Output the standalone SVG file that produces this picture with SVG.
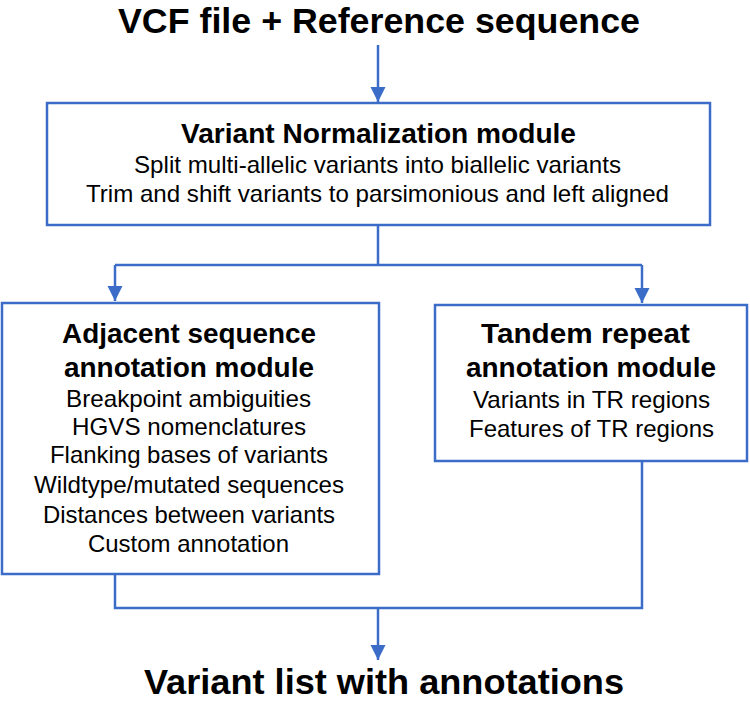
<svg xmlns="http://www.w3.org/2000/svg" width="750" height="702" viewBox="0 0 750 702">
<style>
.box{fill:#fff;stroke:#3b6cc8;stroke-width:2.5}
.ln{fill:none;stroke:#3b6cc8;stroke-width:2.5}
.big{font-family:"Liberation Sans",Arial,sans-serif;font-weight:bold;font-size:35px;fill:#000;text-anchor:middle}
.hd{font-family:"Liberation Sans",Arial,sans-serif;font-weight:bold;font-size:28px;fill:#000;text-anchor:middle}
.tx{font-family:"Liberation Sans",Arial,sans-serif;font-size:24px;fill:#000;text-anchor:middle}
</style>
<defs>
<marker id="ah" markerUnits="userSpaceOnUse" markerWidth="16" markerHeight="16" refX="15" refY="7.5" orient="auto">
<path d="M0,0 L15,7.5 L0,15 z" fill="#3b6cc8"/>
</marker>
</defs>
<g id="input">
<text class="big" x="379" y="33" textLength="522" lengthAdjust="spacingAndGlyphs">VCF file + Reference sequence</text>
</g>
<g id="connectors">
<path class="ln" d="M378,45 V102" marker-end="url(#ah)"/>
<path class="ln" d="M378,225 V265 M115,265 H642"/>
<path class="ln" d="M115,265 V301" marker-end="url(#ah)"/>
<path class="ln" d="M642,265 V303" marker-end="url(#ah)"/>
<path class="ln" d="M115,574 V608 H642 V461"/>
<path class="ln" d="M378,608 V660" marker-end="url(#ah)"/>
</g>
<g id="normalization">
<rect class="box" x="47" y="103" width="663" height="122"/>
<text class="hd" x="378.5" y="143" textLength="395" lengthAdjust="spacingAndGlyphs">Variant Normalization module</text>
<text class="tx" x="377.5" y="173" textLength="487" lengthAdjust="spacingAndGlyphs">Split multi-allelic variants into biallelic variants</text>
<text class="tx" x="377.5" y="202" textLength="583" lengthAdjust="spacingAndGlyphs">Trim and shift variants to parsimonious and left aligned</text>
</g>
<g id="adjacent">
<rect class="box" x="2" y="303" width="377" height="271"/>
<text class="hd" x="189" y="343" textLength="254" lengthAdjust="spacingAndGlyphs">Adjacent sequence</text>
<text class="hd" x="189" y="377" textLength="250" lengthAdjust="spacingAndGlyphs">annotation module</text>
<text class="tx" x="188.5" y="407" textLength="245" lengthAdjust="spacingAndGlyphs">Breakpoint ambiguities</text>
<text class="tx" x="189" y="435" textLength="234" lengthAdjust="spacingAndGlyphs">HGVS nomenclatures</text>
<text class="tx" x="189" y="463" textLength="278" lengthAdjust="spacingAndGlyphs">Flanking bases of variants</text>
<text class="tx" x="189" y="493" textLength="310" lengthAdjust="spacingAndGlyphs">Wildtype/mutated sequences</text>
<text class="tx" x="189" y="523" textLength="292" lengthAdjust="spacingAndGlyphs">Distances between variants</text>
<text class="tx" x="188.5" y="552" textLength="201" lengthAdjust="spacingAndGlyphs">Custom annotation</text>
</g>
<g id="tandem">
<rect class="box" x="435" y="305" width="312" height="156"/>
<text class="hd" x="585.5" y="343" textLength="209" lengthAdjust="spacingAndGlyphs">Tandem repeat</text>
<text class="hd" x="591" y="377" textLength="250" lengthAdjust="spacingAndGlyphs">annotation module</text>
<text class="tx" x="591.5" y="408" textLength="237" lengthAdjust="spacingAndGlyphs">Variants in TR regions</text>
<text class="tx" x="591.5" y="437" textLength="245" lengthAdjust="spacingAndGlyphs">Features of TR regions</text>
</g>
<g id="output">
<text class="big" x="384" y="694" textLength="480" lengthAdjust="spacingAndGlyphs">Variant list with annotations</text>
</g>
</svg>
